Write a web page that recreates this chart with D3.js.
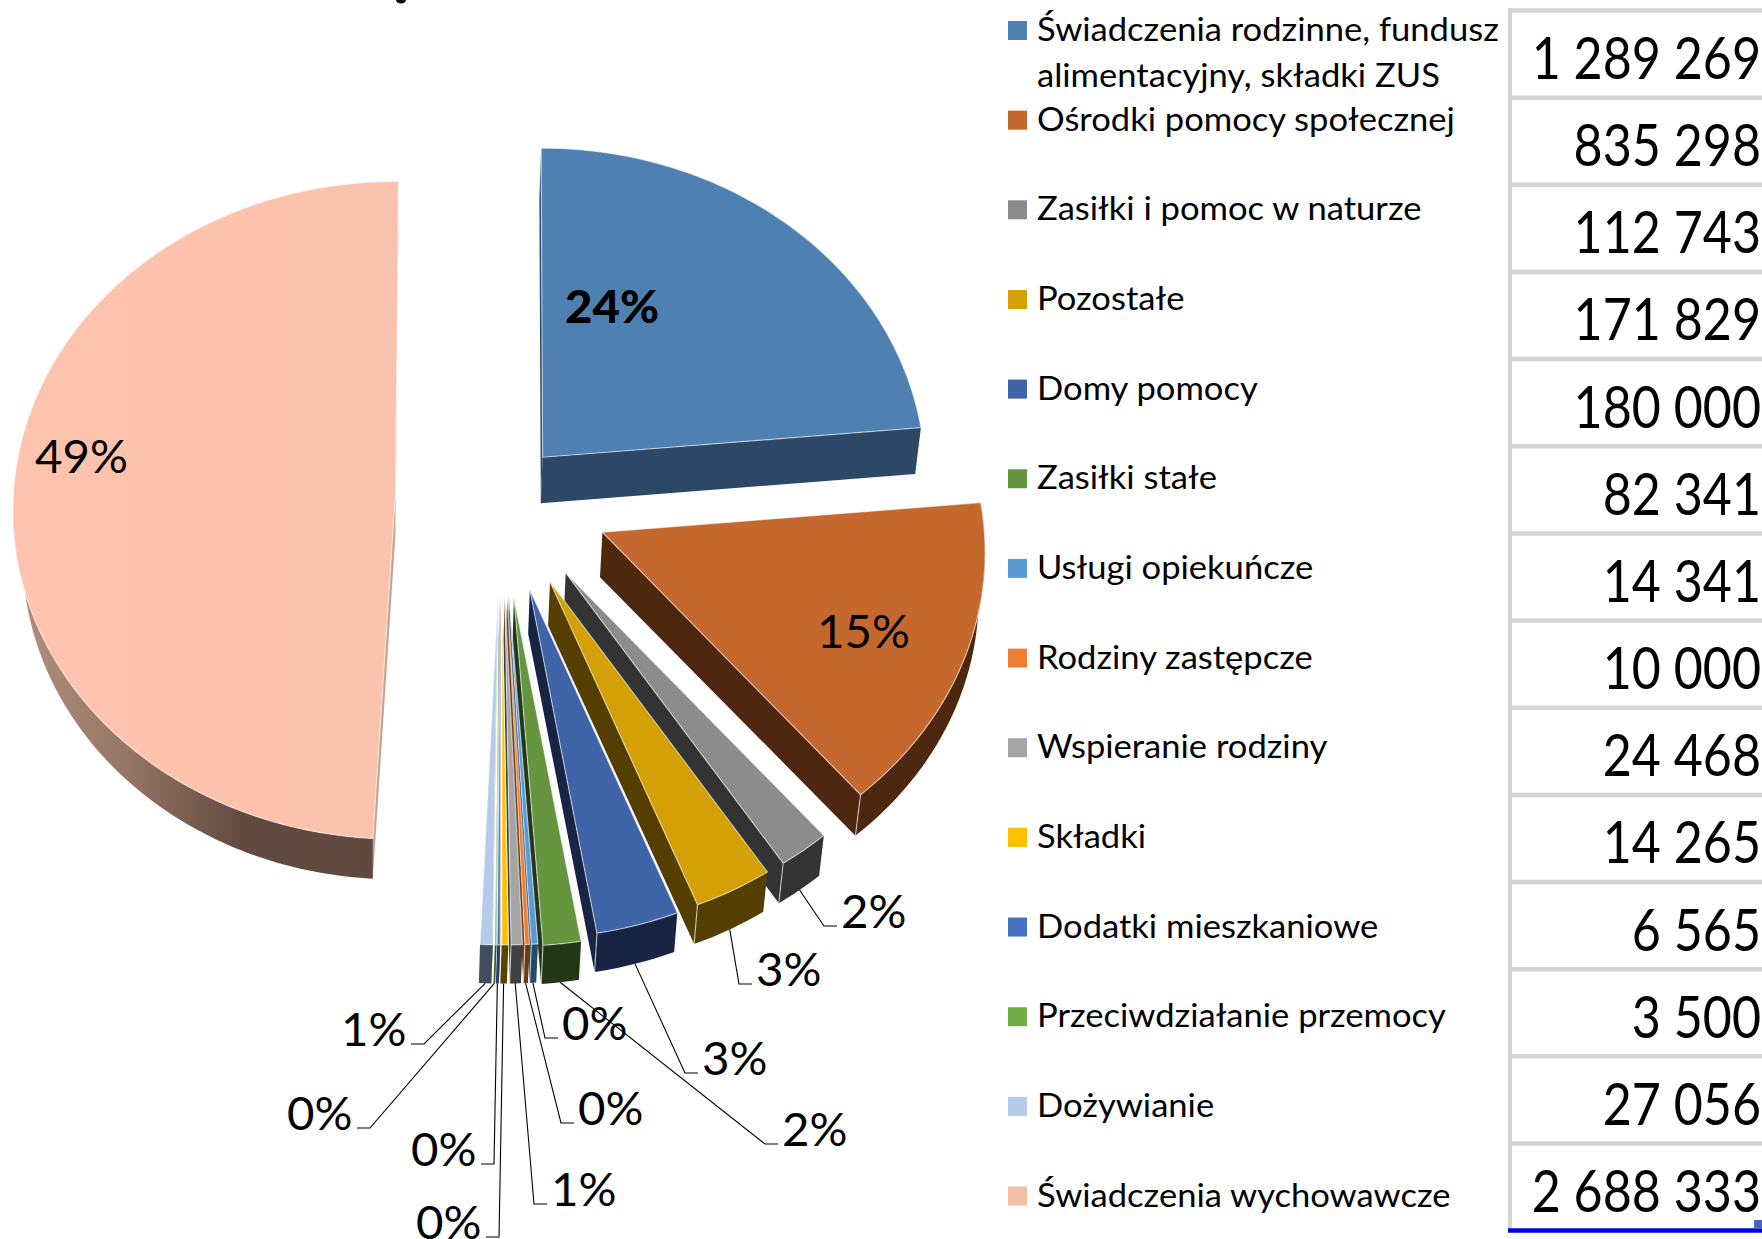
<!DOCTYPE html>
<html><head><meta charset="utf-8">
<style>html,body{margin:0;padding:0;background:#fff}svg{display:block}text{font-family:Lato,"Open Sans",sans-serif;fill:#000}</style>
<script src="https://cdn.jsdelivr.net/npm/d3@7/dist/d3.min.js"></script>
</head><body><svg id="c" width="1762" height="1239"></svg>
<script>
const categories=[["Świadczenia rodzinne, fundusz","alimentacyjny, składki ZUS"],["Ośrodki pomocy społecznej"],["Zasiłki i pomoc w naturze"],["Pozostałe"],["Domy pomocy"],["Zasiłki stałe"],["Usługi opiekuńcze"],["Rodziny zastępcze"],["Wspieranie rodziny"],["Składki"],["Dodatki mieszkaniowe"],["Przeciwdziałanie przemocy"],["Dożywianie"],["Świadczenia wychowawcze"]];
const values=[1289269,835298,112743,171829,180000,82341,14341,10000,24468,14265,6565,3500,27056,2688333];
const percentLabels=["24%","15%","2%","3%","3%","2%","0%","0%","1%","0%","0%","0%","1%","49%"];
const topColors=["#4e81b2","#c5682d","#8c8c8c","#d5a006","#3f64a8","#65963f","#5b9bd5","#ed7d31","#a5a5a5","#ffc000","#4472c4","#70ad47","#b4cbe9","url(#peachTop)"];
const legendColors=["#4e81b2","#c5682d","#8c8c8c","#d5a006","#3f64a8","#65963f","#5b9bd5","#ed7d31","#a5a5a5","#ffc000","#4472c4","#70ad47","#b4cbe9","#f8bda6"];
const wallColors=["#2c4866","#4d270e","#333333","#553f00","#172444","#233717","#264a6b","#6b3a17","#404040","#594400","#2a3f70","#3a5a25","#3f4d5c","url(#peachWall)"];
const edgeColors=["#2c4866","#4d270e","#333333","#553f00","#172444","#233717","#264a6b","#6b3a17","#404040","#594400","#2a3f70","#3a5a25","#3f4d5c","#c9a291"];
const explode=[.146,.284,.294,.298,.305,.323,.318,.318,.318,.318,.318,.318,.318,.285];
const explodeTurn=[.8,3.2,3.4,3.5,2.9,2.4,1.5,1.5,1.5,1.5,1.5,1.5,1.5,-.1];
const rimTurn=[0,0,0,0,0,0,0,0,0,0,0,0,0,.7];
// label anchor (left x, baseline y) and elbow side for outside labels; null = inside, no leader
const labelLayout=[[565,323,null],[817,648,null],[841,928,"l"],[756,986,"l"],[702,1075,"l"],[782,1146,"l"],[562,1040,"l"],[578,1125,"l"],[551,1206,"l"],[416,1239,"r"],[411,1166,"r"],[287,1130,"r"],[341,1046,"r"],[35,473,null]];

const svg=d3.select("#c");
const defs=svg.append("defs");
function grad(id,stops){const g=defs.append("linearGradient").attr("id",id).attr("gradientUnits","userSpaceOnUse").attr("x1",10).attr("x2",400).attr("y1",0).attr("y2",0);stops.forEach(s=>g.append("stop").attr("offset",s[0]).attr("stop-color",s[1]));}
grad("peachTop",[[0,"#fec3ad"],[.6,"#fdc2ab"],[1,"#f8c3ae"]]);
grad("peachWall",[[0,"#b4917f"],[.3,"#957565"],[.6,"#614a3f"],[1,"#5f483e"]]);

svg.append("ellipse").attr("cx",401).attr("cy",0).attr("rx",5).attr("ry",3.5).attr("fill","#000");

const cx=504.5,cy=492.2,halfW=382,halfH=327.6,k=.06;
const xS=d3.scaleLinear().domain([-1,1]).range([cx-halfW,cx+halfW]);
const yS=d3.scaleLinear().domain([-1,1]).range([cy+halfH,cy-halfH]);
// outer rim is foreshortened relative to the slice's own tip; explosion offset is plain linear
const project=(ou,ov,su,sv)=>{const w=1+k*sv;return [xS(ou+su/w),yS(ov+sv/w)];};
const drop=p=>[p[0]-(p[0]<372?.027:.0105)*(p[0]-372),p[1]+46-(p[1]-457)*.015];
const line=d3.line();
const arcs=d3.pie().sort(null).value(d=>d).startAngle(-.004)(values);

const geo=arcs.map((a,i)=>{
  const b=(a.startAngle+a.endAngle)/2,be=b+explodeTurn[i]*Math.PI/180,ou=explode[i]*Math.sin(be),ov=explode[i]*Math.cos(be);
  const rt=rimTurn[i]*Math.PI/180;
  const n=Math.max(2,Math.ceil((a.endAngle-a.startAngle)*60));
  const outer=d3.range(n+1).map(j=>{const t=a.startAngle+rt+(a.endAngle-a.startAngle)*j/n;return project(ou,ov,Math.sin(t),Math.cos(t));});
  return {apex:project(ou,ov,0,0),outer,mid:project(ou,ov,Math.sin(b),Math.cos(b))};
});
const wallG=svg.append("g");
[13,0,1,2,3,4,5,6,7,8,9,10,11,12].forEach(i=>{
  const g=geo[i],G=wallG.append("g");
  const quad=(pts,c)=>G.append("path").attr("d",line(pts.concat(pts.slice().reverse().map(drop)))+"Z").attr("fill",c);
  const firstVis=g.outer[0][0]<g.apex[0],lastVis=g.apex[0]<g.outer[g.outer.length-1][0];
  if(firstVis)quad([g.apex,g.outer[0]],edgeColors[i]);
  if(lastVis)quad([g.outer[g.outer.length-1],g.apex],edgeColors[i]);
  let run=[],runs=[];
  for(let j=0;j<g.outer.length-1;j++){
    if(g.outer[j+1][0]<g.outer[j][0]){if(!run.length)run.push(g.outer[j]);run.push(g.outer[j+1]);}
    else if(run.length){runs.push(run);run=[];}
  }
  if(run.length)runs.push(run);
  runs.forEach(r=>quad(r,wallColors[i]));
  G.append("path").attr("d",line(g.outer.concat([g.apex]))+"Z").attr("fill",topColors[i]).attr("stroke","#fff").attr("stroke-opacity",.55).attr("stroke-width",1.2).attr("stroke-linejoin","round");
  const corner=p=>G.append("line").attr("x1",p[0]).attr("y1",p[1]).attr("x2",drop(p)[0]).attr("y2",drop(p)[1]).attr("stroke","#fff").attr("stroke-opacity",.6).attr("stroke-width",1.2);
  if(lastVis&&runs.length)corner(g.outer[g.outer.length-1]);
});

// labels and leaders
const lab=svg.append("g");
labelLayout.forEach((l,i)=>{
  lab.append("text").attr("transform",`translate(${l[0]},${l[1]}) scale(1.03,1)`).attr("font-size",46).attr("font-weight",i===0?900:400).text(percentLabels[i]);
  if(l[2]){
    const s=drop(geo[i].mid),w=66,elbowY=l[1]-2;
    const end=l[2]==="l"?l[0]-4:l[0]+w+4, knee=l[2]==="l"?end-13:end+13;
    svg.append("path").attr("d",line([s,[knee,elbowY],[end,elbowY]])).attr("fill","none").attr("stroke","#000").attr("stroke-width",1.1);
  }
});

// legend
const legendY=d3.scaleLinear().domain([0,13]).range([30.5,1196]);
const leg=svg.append("g");
categories.forEach((c,i)=>{
  const y=legendY(i);
  leg.append("rect").attr("x",1008).attr("y",y-9.5).attr("width",19).attr("height",19).attr("fill",legendColors[i]);
  c.forEach((t,j)=>leg.append("text").attr("transform",`translate(1037,${y+10.5+46*j}) scale(1.08,1)`).attr("font-size",32).text(t));
});

// table
const fmt=d3.formatLocale({decimal:",",thousands:" ",grouping:[3],currency:["",""]}).format(",d");
const rowY=d3.scaleLinear().domain([0,13]).range([10.5,1143.5]);
const tab=svg.append("g");
values.forEach((v,i)=>{
  tab.append("line").attr("x1",1508).attr("x2",1762).attr("y1",rowY(i)).attr("y2",rowY(i)).attr("stroke","#d4d4d4").attr("stroke-width",4.5);
  tab.append("text").attr("transform",`translate(1761,${rowY(i)+68.5}) scale(.865,1)`).attr("text-anchor","end").attr("font-size",58).text(fmt(v));
});
tab.append("line").attr("x1",1510).attr("x2",1510).attr("y1",8).attr("y2",1232).attr("stroke","#d4d4d4").attr("stroke-width",4);
tab.append("line").attr("x1",1508).attr("x2",1762).attr("y1",1230.5).attr("y2",1230.5).attr("stroke","#0000ee").attr("stroke-width",4.5);
tab.append("rect").attr("x",1754).attr("y",1220).attr("width",8).attr("height",9).attr("fill","#4a62c4");
</script></body></html>
